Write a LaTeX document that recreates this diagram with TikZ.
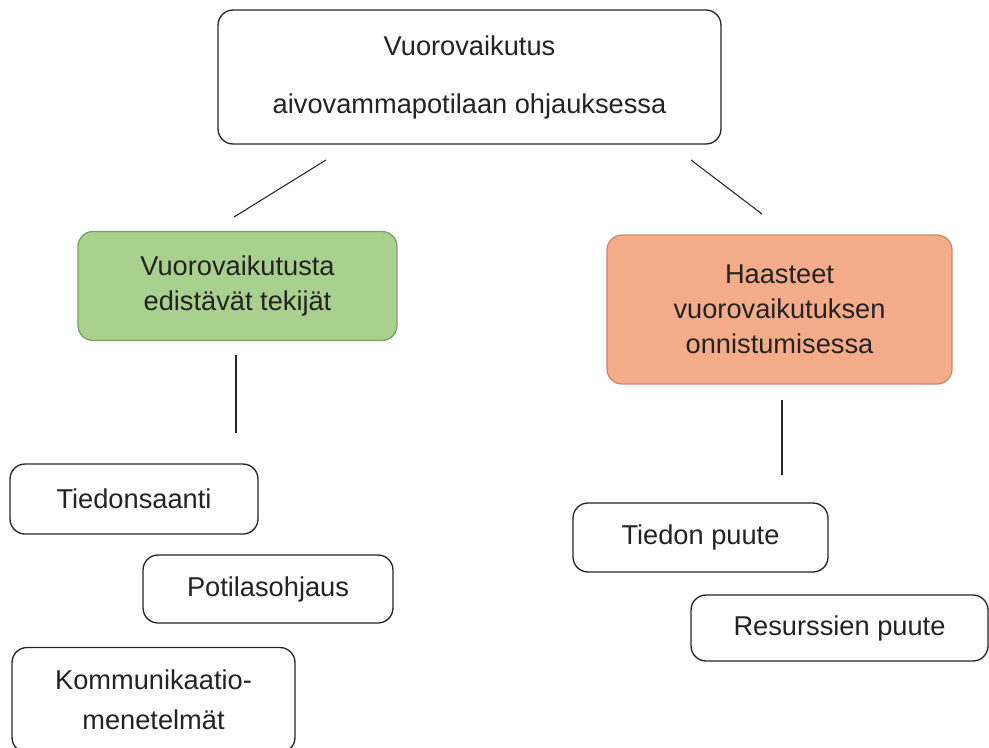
\documentclass[tikz,border=0pt]{standalone}
\usepackage{fontspec}
\setmainfont{Liberation Sans}
\usepackage{tikz}
\definecolor{boxgreen}{RGB}{169,208,142}
\definecolor{greenline}{RGB}{125,160,105}
\definecolor{boxsalmon}{RGB}{244,172,138}
\definecolor{salmonline}{RGB}{205,135,105}
\definecolor{inktext}{RGB}{35,35,35}

\tikzset{
  box/.style={draw=black!85, line width=0.75pt, rounded corners=0.3cm,
    align=center, text=inktext, inner sep=2pt,
    font=\fontsize{15.5}{20}\selectfont},
  link/.style={draw=black!85, line width=0.6pt}
}

\begin{document}
\begin{tikzpicture}[x=0.02cm,y=-0.02cm]
\useasboundingbox[fill=white] (0,0) rectangle (989,747);
% main topic
\node[box, minimum width=10.06cm, minimum height=2.68cm] (topic) at (469.5,77)
  {Vuorovaikutus\\[13pt]aivovammapotilaan ohjauksessa};
% the two branches
\node[box, fill=boxgreen, draw=greenline, minimum width=6.38cm, minimum height=2.18cm]
  (helps) at (237.5,286) {Vuorovaikutusta\\edistävät tekijät};
\node[box, fill=boxsalmon, draw=salmonline, minimum width=6.9cm, minimum height=2.98cm]
  (hard) at (779.5,309.5) {Haasteet\\vuorovaikutuksen\\onnistumisessa};
% leaves on the left
\node[box, minimum width=4.96cm, minimum height=1.4cm] (info) at (134,499) {Tiedonsaanti};
\node[box, minimum width=5cm, minimum height=1.36cm] (guide) at (268,589) {Potilasohjaus};
\node[box, minimum width=5.66cm, minimum height=2.1cm] (comm) at (153.5,700)
  {Kommunikaatio-\\[3pt]menetelmät};
% leaves on the right
\node[box, minimum width=5.1cm, minimum height=1.38cm] (noinfo) at (700.5,537.5) {Tiedon puute};
\node[box, minimum width=5.94cm, minimum height=1.32cm] (nores) at (839.5,628) {Resurssien puute};
% loose connectors
\coordinate (topL) at (326,160);
\coordinate (helpsT) at (234,217);
\coordinate (topR) at (691,160);
\coordinate (hardT) at (762,214);
\coordinate (helpsB) at (236,355);
\coordinate (infoT) at (236,433);
\coordinate (hardB) at (782,400);
\coordinate (noinfoT) at (782,475);
\draw[link] (topL) -- (helpsT);
\draw[link] (topR) -- (hardT);
\draw[link] (helpsB) -- (infoT);
\draw[link] (hardB) -- (noinfoT);
\end{tikzpicture}
\end{document}
